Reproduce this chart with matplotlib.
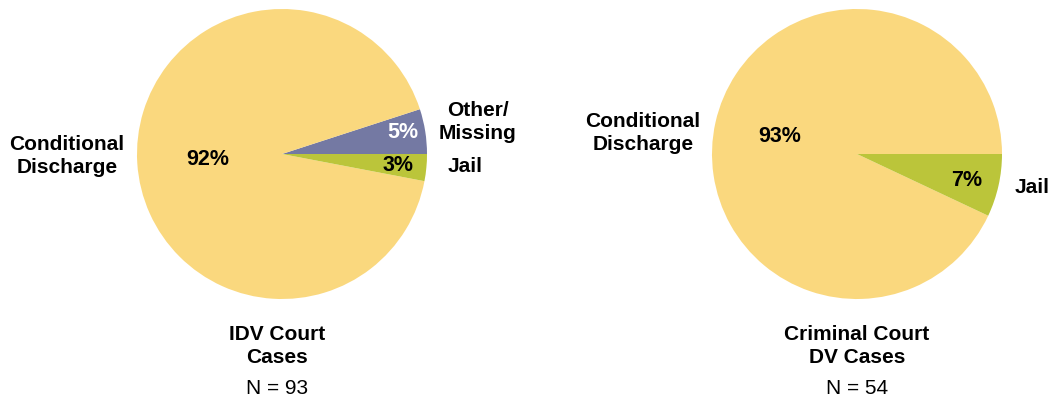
import matplotlib
matplotlib.use("Agg")
import matplotlib.pyplot as plt

# ======= data =======
idv_labels = ["Other/\nMissing", "Conditional\nDischarge", "Jail"]
idv_values = [5, 92, 3]
idv_colors = ["#7479A3", "#FAD87E", "#BBC53A"]

crim_labels = ["Conditional\nDischarge", "Jail"]
crim_values = [93, 7]
crim_colors = ["#FAD87E", "#BBC53A"]

W, H = 1055, 402
plt.rcParams["font.family"] = ["Liberation Sans", "DejaVu Sans"]

fig = plt.figure(figsize=(W / 100, H / 100), dpi=100)


def px(x, y):
    # pixel (top-left origin) -> figure fraction
    return x / W, 1 - y / H


def pie_axes(cx, cy, r):
    return fig.add_axes([(cx - r) / W, 1 - (cy + r) / H, 2 * r / W, 2 * r / H])


def txt(x, y, s, **kw):
    fx, fy = px(x, y)
    opts = dict(ha="center", va="center", fontsize=15, fontweight="bold",
                linespacing=1.3)
    opts.update(kw)
    fig.text(fx, fy, s, **opts)


# ======= left pie =======
ax1 = pie_axes(282, 155, 145)
ax1.pie(idv_values, colors=idv_colors, startangle=0, counterclock=True,
        radius=1.0, wedgeprops=dict(linewidth=0))
ax1.set_xlim(-1, 1); ax1.set_ylim(-1, 1); ax1.set_aspect("equal")
ax1.axis("off")

txt(67, 156, "Conditional\nDischarge")
txt(208, 160, "92%", fontsize=15.5)
txt(403, 133, "5%", color="white", fontsize=15.5)
txt(398, 166, "3%", fontsize=15.5)
txt(478, 122, "Other/\nMissing")
txt(465, 167, "Jail")
txt(277, 346, "IDV Court\nCases")
txt(277, 389, "N = 93", fontweight="normal")

# ======= right pie =======
ax2 = pie_axes(857, 155, 145)
ax2.pie(crim_values, colors=crim_colors, startangle=0, counterclock=True,
        radius=1.0, wedgeprops=dict(linewidth=0))
ax2.set_xlim(-1, 1); ax2.set_ylim(-1, 1); ax2.set_aspect("equal")
ax2.axis("off")

txt(643, 133, "Conditional\nDischarge")
txt(780, 137, "93%", fontsize=15.5)
txt(967, 181, "7%", fontsize=15.5)
txt(1032, 188, "Jail")
txt(857, 346, "Criminal Court\nDV Cases")
txt(857, 389, "N = 54", fontweight="normal")

fig.savefig("out.png", dpi=100)
